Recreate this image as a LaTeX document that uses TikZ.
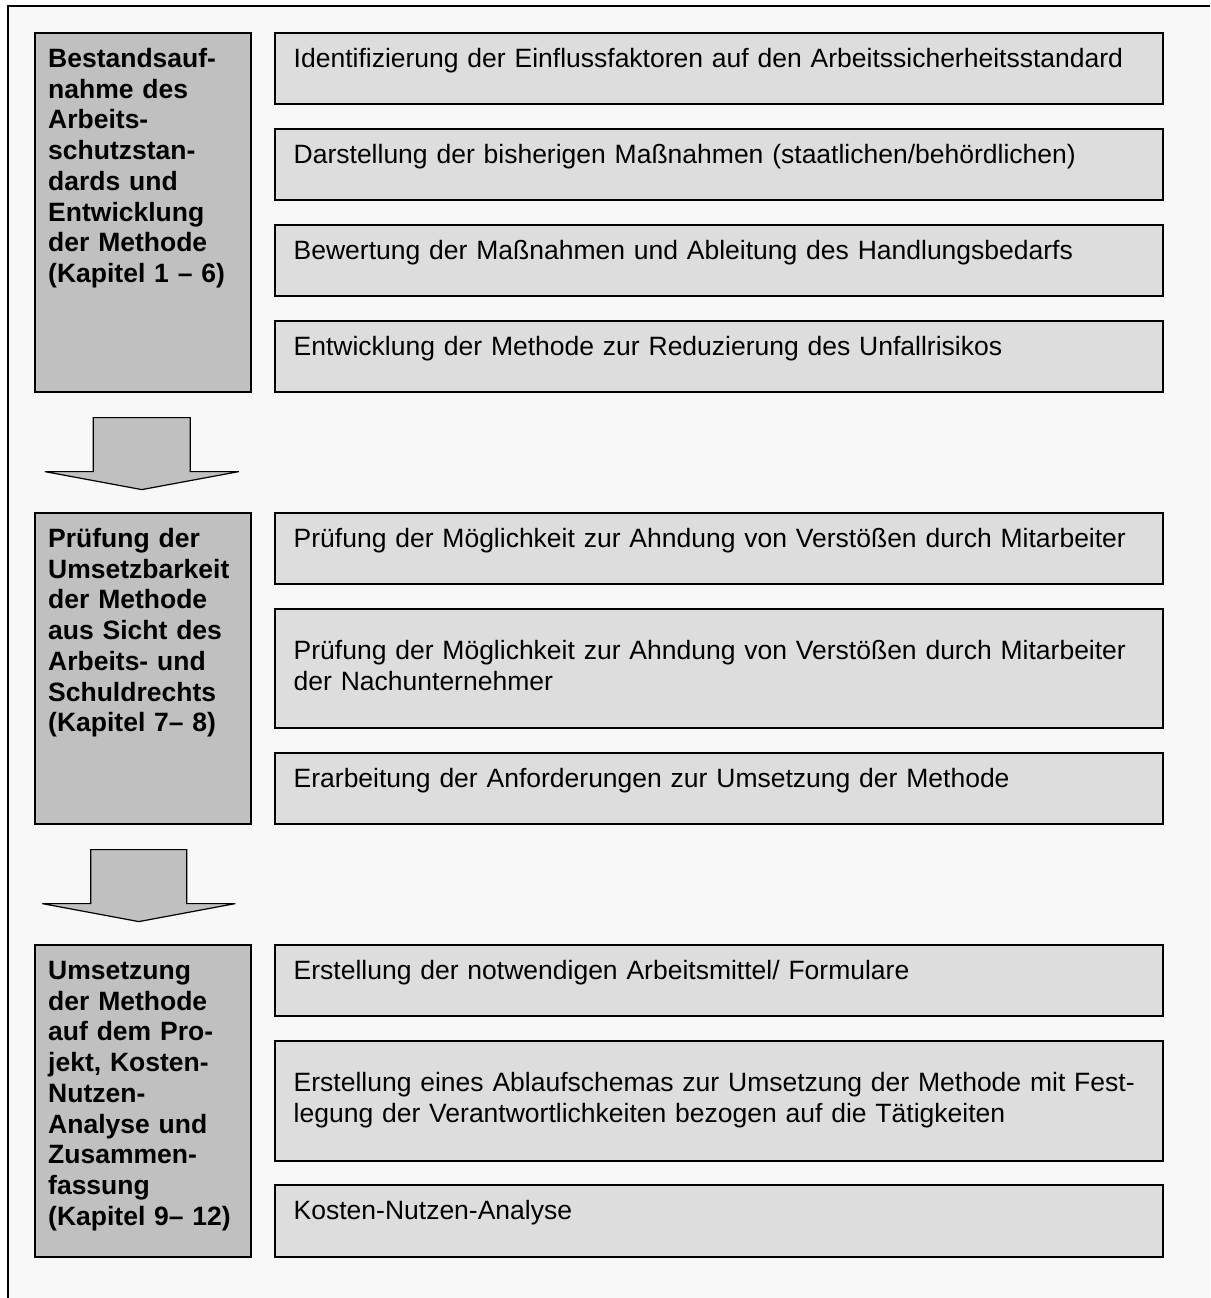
\documentclass[tikz,border=0pt]{standalone}
\usepackage{fontspec}
\setmainfont{Liberation Sans}
\usepackage{xcolor}

\definecolor{framebg}{HTML}{F8F8F8}
\definecolor{phasegrey}{HTML}{C0C0C0}
\definecolor{taskgrey}{HTML}{DDDDDD}

\tikzset{
  phasebox/.style={draw, line width=1.6pt, fill=phasegrey, anchor=north west, inner sep=0pt, minimum width=216pt},
  taskbox/.style={draw, line width=1.6pt, fill=taskgrey, anchor=north west, inner sep=0pt, minimum width=888pt},
  phasetext/.style={anchor=base west, inner sep=0pt, text width=220pt, align=left, font=\fontsize{26.5}{30.7}\selectfont\bfseries},
  tasktext/.style={anchor=base west, inner sep=0pt, text width=860pt, align=left, font=\fontsize{26.5}{30.7}\selectfont},
  bigarrow/.style={draw, line width=1.2pt, fill=phasegrey, line join=miter},
}

\begin{document}
\begin{tikzpicture}[x=1pt, y=-1pt]
        \useasboundingbox (0,0) rectangle (1210,1298);
        \fill[framebg] (8,6) rectangle (1210,1298);
        \draw[line width=1.2pt] (1210,6) -- (8,6) -- (8,1298);

        % Kapitel 1 - 6
        \node[phasebox, minimum height=359pt] (p1) at (34,32) {};
        \node[taskbox, minimum height=71pt] (t1) at (274,32) {};
        \node[taskbox, minimum height=71pt] (t2) at (274,128) {};
        \node[taskbox, minimum height=71pt] (t3) at (274,224) {};
        \node[taskbox, minimum height=71pt] (t4) at (274,320) {};

        \node[phasetext] (p1txt) at ([shift={(14,35.5)}]p1.north west) {Bestandsauf-\\nahme des\\Arbeits-\\schutzstan-\\dards und\\Entwicklung\\der Methode\\(Kapitel 1 – 6)};
        \node[tasktext] (t1txt) at ([shift={(19.5,35.5)}]t1.north west) {Identifizierung der Einflussfaktoren auf den Arbeitssicherheitsstandard};
        \node[tasktext] (t2txt) at ([shift={(19.5,35.5)}]t2.north west) {Darstellung der bisherigen Maßnahmen (staatlichen/behördlichen)};
        \node[tasktext] (t3txt) at ([shift={(19.5,35.5)}]t3.north west) {Bewertung der Maßnahmen und Ableitung des Handlungsbedarfs};
        \node[tasktext] (t4txt) at ([shift={(19.5,35.5)}]t4.north west) {Entwicklung der Methode zur Reduzierung des Unfallrisikos};

        % Kapitel 7 - 8
        \node[phasebox, minimum height=311pt] (p2) at (34,512) {};
        \node[taskbox, minimum height=71pt] (t5) at (274,512) {};
        \node[taskbox, minimum height=119pt] (t6) at (274,608) {};
        \node[taskbox, minimum height=71pt] (t7) at (274,752) {};

        \node[phasetext] (p2txt) at ([shift={(14,35.5)}]p2.north west) {Prüfung der\\Umsetzbarkeit\\der Methode\\aus Sicht des\\Arbeits- und\\Schuldrechts\\(Kapitel 7– 8)};
        \node[tasktext] (t5txt) at ([shift={(19.5,35.5)}]t5.north west) {Prüfung der Möglichkeit zur Ahndung von Verstößen durch Mitarbeiter};
        \node[tasktext] (t6txt) at ([shift={(19.5,51.5)}]t6.north west) {Prüfung der Möglichkeit zur Ahndung von Verstößen durch Mitarbeiter\\der Nachunternehmer};
        \node[tasktext] (t7txt) at ([shift={(19.5,35.5)}]t7.north west) {Erarbeitung der Anforderungen zur Umsetzung der Methode};

        % Kapitel 9 - 12
        \node[phasebox, minimum height=312pt] (p3) at (34,944) {};
        \node[taskbox, minimum height=71pt] (t8) at (274,944) {};
        \node[taskbox, minimum height=120pt] (t9) at (274,1040) {};
        \node[taskbox, minimum height=72pt] (t10) at (274,1184) {};

        \node[phasetext] (p3txt) at ([shift={(14,35.5)}]p3.north west) {Umsetzung\\der Methode\\auf dem Pro-\\jekt, Kosten-\\Nutzen-\\Analyse und\\Zusammen-\\fassung\\(Kapitel 9– 12)};
        \node[tasktext] (t8txt) at ([shift={(19.5,35.5)}]t8.north west) {Erstellung der notwendigen Arbeitsmittel/ Formulare};
        \node[tasktext] (t9txt) at ([shift={(19.5,51.5)}]t9.north west) {Erstellung eines Ablaufschemas zur Umsetzung der Methode mit Fest-\\legung der Verantwortlichkeiten bezogen auf die Tätigkeiten};
        \node[tasktext] (t10txt) at ([shift={(19.5,35.5)}]t10.north west) {Kosten-Nutzen-Analyse};

        % Pfeile
        \draw[bigarrow] ([shift={(-49.5,25)}]p1.south) -- ++(0,54) -- ++(-48.5,0) -- ([shift={(-1,97)}]p1.south)
            -- ([shift={(96,79)}]p1.south) -- ++(-48.5,0) -- ++(0,-54) -- cycle;
        \draw[bigarrow] ([shift={(-52,25)}]p2.south) -- ++(0,54) -- ++(-48.5,0) -- ([shift={(-4,97)}]p2.south)
            -- ([shift={(92.5,79)}]p2.south) -- ++(-48.5,0) -- ++(0,-54) -- cycle;
    \end{tikzpicture}
\end{document}
